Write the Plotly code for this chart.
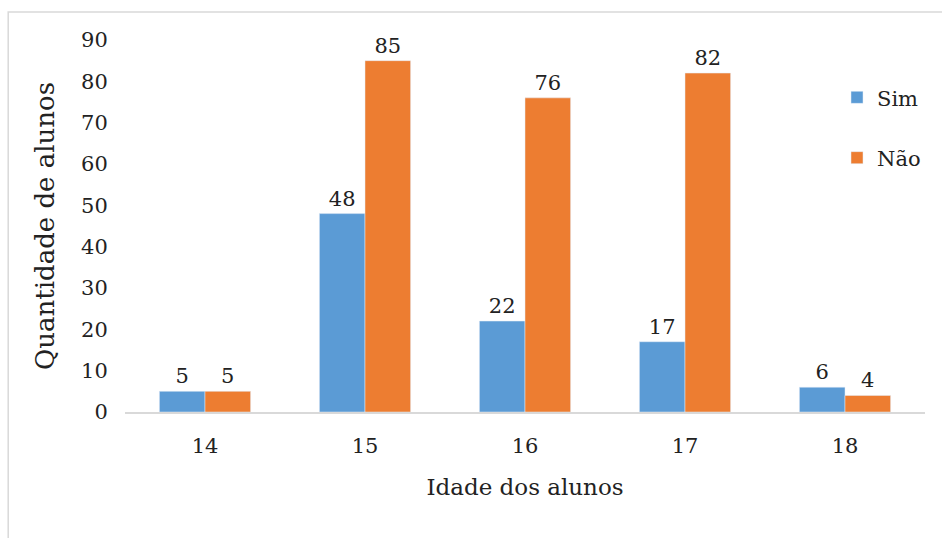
import plotly.graph_objects as go

idades = ["14", "15", "16", "17", "18"]
sim = [5, 48, 22, 17, 6]
nao = [5, 85, 76, 82, 4]

FONT = "DejaVu Serif"
INK = "#222222"

fig = go.Figure()
fig.add_trace(go.Bar(
    x=idades, y=sim, name="Sim", marker_color="#5B9BD5",
    text=sim, textposition="outside", legendgroup="a",
))
fig.add_trace(go.Bar(
    x=idades, y=nao, name="Não", marker_color="#ED7D31",
    text=nao, textposition="outside", legendgroup="b",
))

fig.update_layout(
    width=942, height=538,
    margin=dict(l=125, r=17, t=40, b=126),
    paper_bgcolor="white", plot_bgcolor="white",
    font=dict(family=FONT, size=21, color=INK),
    barmode="group", bargap=0.43, bargroupgap=0,
    showlegend=True,
    legend=dict(
        x=0.89, y=0.9, xanchor="left", yanchor="top",
        tracegroupgap=30, bgcolor="rgba(0,0,0,0)",
        font=dict(family=FONT, size=21, color=INK),
    ),
    xaxis=dict(
        showline=True, linecolor="#D9D9D9", linewidth=2,
        ticks="outside", ticklen=14, tickcolor="rgba(0,0,0,0)", showgrid=False,
        tickfont=dict(family=FONT, size=21, color=INK),
        title=dict(text="Idade dos alunos",
                   font=dict(family=FONT, size=23, color=INK), standoff=22),
    ),
    yaxis=dict(
        range=[0, 90], dtick=10, showgrid=False, zeroline=False,
        showline=False, ticks="outside", ticklen=12, tickcolor="rgba(0,0,0,0)",
        tickfont=dict(family=FONT, size=21, color=INK),
        title=dict(text="Quantidade de alunos",
                   font=dict(family=FONT, size=26, color=INK), standoff=18),
    ),
    shapes=[dict(
        type="rect", xref="paper", yref="paper",
        x0=-0.146, x1=1.2, y0=-0.5, y1=1.075,
        fillcolor="rgba(0,0,0,0)", opacity=1,
        line=dict(color="#D9D9D9", width=1.5), layer="below",
    )],
)
fig.update_traces(cliponaxis=False, textfont=dict(family=FONT, size=21, color=INK))

fig.write_html("out.html")
